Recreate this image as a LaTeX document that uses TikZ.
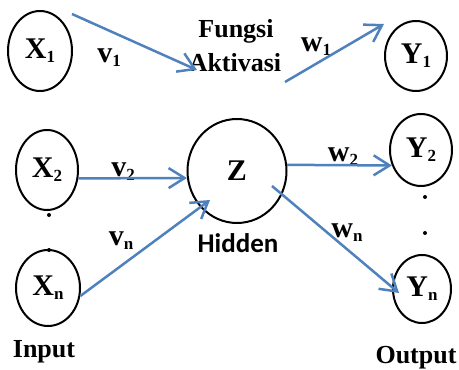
\documentclass[tikz,border=0pt]{standalone}
\usepackage{fontspec}
\setmainfont{Liberation Serif}
\newfontfamily\hiddenfont{Carlito}
\usetikzlibrary{shapes.geometric,arrows.meta}

\definecolor{edgeblue}{RGB}{79,129,189}
\newcommand{\idx}[2]{#1{\fontsize{17}{17}\selectfont\raisebox{-4pt}{#2}}}

\begin{document}
\begin{tikzpicture}[x=1pt,y=1pt,
    unit/.style={draw,ellipse,line width=2pt,inner sep=0pt,font=\fontsize{30}{30}\selectfont\bfseries},
    conn/.style={draw=edgeblue,line width=2.5pt,-{Straight Barb[length=16pt,width=20pt]}},
    wlabel/.style={anchor=base,inner sep=0pt,font=\fontsize{30}{30}\selectfont\bfseries},
    caption/.style={anchor=base,inner sep=0pt,font=\fontsize{26}{26}\selectfont\bfseries}]
\useasboundingbox (0,0) rectangle (459,370);

% input, hidden and output units
\node[unit,minimum width=64,minimum height=80] (x1) at (40,319) {\idx{X}{1}};
\node[unit,minimum width=62,minimum height=80] (x2) at (47,200) {\idx{X}{2}};
\node[unit,minimum width=64,minimum height=76] (xn) at (48,82) {\idx{X}{n}};
\node[unit,minimum width=99,minimum height=104] (z) at (237,199) {Z};
\node[unit,minimum width=62,minimum height=70] (y1) at (416,314) {\idx{Y}{1}};
\node[unit,minimum width=62,minimum height=72] (y2) at (421,220) {\idx{Y}{2}};
\node[unit,minimum width=58,minimum height=68] (yn) at (422,81) {\idx{Y}{n}};

% texts
\node[caption] (fungsi) at (236,332) {Fungsi};
\node[caption] (aktivasi) at (235,298) {Aktivasi};
\node[anchor=base,inner sep=0pt,font=\fontsize{27}{27}\hiddenfont\bfseries] (hidden) at (238,117) {Hidden};
\node[caption] (input) at (44,12) {Input};
\node[caption] (output) at (416,6) {Output};

% weights
\node[wlabel] (v1) at (109,307) {\idx{v}{1}};
\node[wlabel] (v2) at (123,193) {\idx{v}{2}};
\node[wlabel] (vn) at (121,124) {\idx{v}{n}};
\node[wlabel] (w1) at (316,318) {\idx{w}{1}};
\node[wlabel] (w2) at (343,208) {\idx{w}{2}};
\node[wlabel] (wn) at (347,132) {\idx{w}{n}};

% free ends of the connectors
\coordinate (s1) at ([shift={(32,37)}]x1.center);
\coordinate (t1) at ([shift={(-38,2)}]aktivasi.base);
\coordinate (s2) at ([shift={(50,-10)}]aktivasi.base);
\coordinate (t2) at ([shift={(-32,32)}]y1.center);
\coordinate (t3) at ([shift={(-27,-29)}]z.center);
\coordinate (s4) at ([shift={(35,-15)}]z.center);
\coordinate (t4) at ([shift={(-23,-4)}]yn.center);

\draw[conn] (s1) -- (t1);
\draw[conn] (s2) -- (t2);
\draw[conn] (x2.-15) -- (z.188);
\draw[conn] (xn.-14) -- (t3);
\draw[conn] (z.7) -- (y2.208);
\draw[conn] (s4) -- (t4);

% dots between the units
\foreach \p in {(49,155),(49,120),(425,173),(425,137)}
    \fill \p circle (2);
\end{tikzpicture}
\end{document}
